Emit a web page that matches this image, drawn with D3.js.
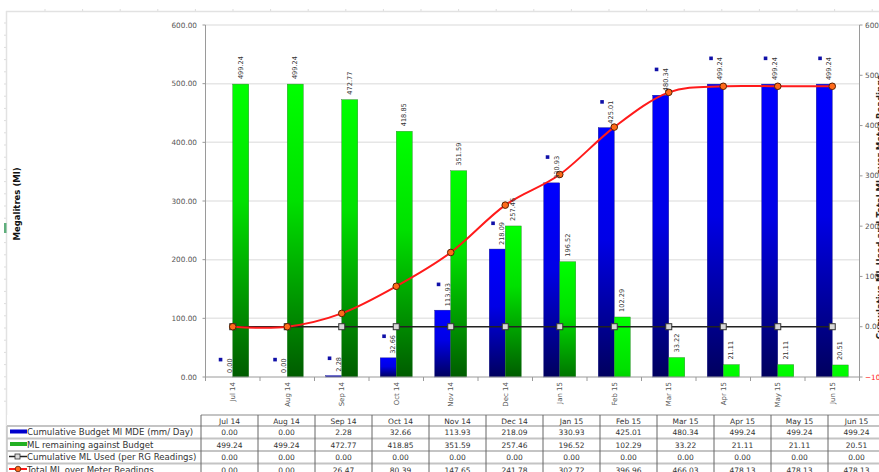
<!DOCTYPE html>
<html><head><meta charset="utf-8">
<script src="https://cdn.jsdelivr.net/npm/d3@7"></script>
<style>html,body{margin:0;padding:0;background:#fff;overflow:hidden}svg{display:block}text{font-family:"DejaVu Sans",sans-serif}</style>
</head><body><svg id="c" width="879" height="472"></svg>
<script>
const categories = ["Jul 14","Aug 14","Sep 14","Oct 14","Nov 14","Dec 14","Jan 15","Feb 15","Mar 15","Apr 15","May 15","Jun 15"];
const budgetCum = [0.00,0.00,2.28,32.66,113.93,218.09,330.93,425.01,480.34,499.24,499.24,499.24];
const remaining = [499.24,499.24,472.77,418.85,351.59,257.46,196.52,102.29,33.22,21.11,21.11,20.51];
const usedCum = [0,0,0,0,0,0,0,0,0,0,0,0];
const totalMeter = [0.00,0.00,26.47,80.39,147.65,241.78,302.72,396.96,466.03,478.13,478.13,478.13];
const seriesNames = ["Cumulative Budget Ml MDE (mm/ Day)","ML remaining against  Budget","Cumulative ML Used (per RG Readings)","Total ML over Meter Readings"];
const leftTicks = [0,100,200,300,400,500,600];
const rightTicks = [-100,0,100,200,300,400,500,600];
const leftTitle = "Megalitres (Ml)";
const rightTitle = "Cumulative ML Used and Total ML over Meter Readings";

const svg = d3.select("#c");
const fmt = d3.format(".2f");
const L = 205.5, R = 859.5, T = 25, B = 377;

const x = d3.scaleBand().domain(categories).range([L, R]);
const xs = d3.scaleBand().domain([0,1]).range([0, x.bandwidth()]).paddingOuter(0.7);
const yL = d3.scaleLinear().domain([0,600]).range([B, T]);
const yR = d3.scaleLinear().domain([-100,600]).range([B, T]);
const cx = c => x(c) + x.bandwidth()/2;

// outer frame
const frame = svg.append("g");
frame.append("line").attr("x1",6).attr("x2",879).attr("y1",11.5).attr("y2",11.5).attr("stroke","#e2e2e2").attr("stroke-width",1.5);
frame.append("line").attr("x1",6.5).attr("x2",6.5).attr("y1",11).attr("y2",472).attr("stroke","#e2e2e2").attr("stroke-width",1.5);
d3.range(45, 879, 37.6).forEach(v => frame.append("line").attr("x1",v).attr("x2",v).attr("y1",9).attr("y2",11).attr("stroke","#ddd"));
d3.range(23, 410, 12.2).forEach(v => frame.append("line").attr("x1",4).attr("x2",6).attr("y1",v).attr("y2",v).attr("stroke","#ddd"));
frame.append("rect").attr("x",4).attr("y",223).attr("width",2.5).attr("height",10).attr("fill","#5fae7c");

// gridlines
svg.append("g").selectAll("line").data(leftTicks.filter(d=>d>0)).join("line")
  .attr("x1",L).attr("x2",R).attr("y1",d=>yL(d)).attr("y2",d=>yL(d))
  .attr("stroke","#e6e6e6").attr("stroke-width",1.5);

// gradients
const defs = svg.append("defs");
function grad(id, y1, y2, stops){
  const g = defs.append("linearGradient").attr("id",id).attr("gradientUnits","userSpaceOnUse")
    .attr("x1",0).attr("x2",0).attr("y1",y1).attr("y2",y2);
  stops.forEach(s=>g.append("stop").attr("offset",s[0]).attr("stop-color",s[1]));
}
const blueStops = [[0,"#0000ff"],[0.45,"#0000e6"],[1,"#00005e"]];
const greenStops = [[0,"#00ff00"],[0.4,"#00e000"],[1,"#005c00"]];

// bars
const gb = svg.append("g");
categories.forEach((c,i)=>{
  const bt = yL(budgetCum[i]);
  if (B - bt > 0.3){
    grad("gb"+i, bt, B, blueStops);
    gb.append("rect").attr("x", x(c)+xs(0)).attr("y", bt).attr("width", xs.bandwidth()).attr("height", B-bt)
      .attr("fill","url(#gb"+i+")").attr("stroke","#1a1a80").attr("stroke-width",0.4);
  }
  const gt = yL(remaining[i]);
  grad("gg"+i, gt, gt + Math.max(B-gt, 130), greenStops);
  gb.append("rect").attr("x", x(c)+xs(1)).attr("y", gt).attr("width", xs.bandwidth()).attr("height", B-gt)
    .attr("fill","url(#gg"+i+")").attr("stroke","#2a7a2a").attr("stroke-width",0.4);
});

// axes lines
const ax = svg.append("g");
ax.append("line").attr("x1",L).attr("x2",L).attr("y1",T).attr("y2",B).attr("stroke","#9a9a9a").attr("stroke-width",1);
ax.append("line").attr("x1",R).attr("x2",R).attr("y1",T).attr("y2",B).attr("stroke","#9a9a9a").attr("stroke-width",1);
ax.append("line").attr("x1",L).attr("x2",R).attr("y1",B).attr("y2",B).attr("stroke","#9a9a9a").attr("stroke-width",1);

// left ticks
const lg = svg.append("g");
lg.selectAll("line").data(leftTicks).join("line").attr("x1",L-3).attr("x2",L).attr("y1",d=>yL(d)).attr("y2",d=>yL(d)).attr("stroke","#9a9a9a");
lg.selectAll("text").data(leftTicks).join("text").attr("x",197).attr("y",d=>yL(d)).attr("dy","0.35em")
  .attr("text-anchor","end").attr("font-size",7.3).attr("fill","#555").text(d=>fmt(d));
// right ticks
const rg = svg.append("g");
rg.selectAll("line").data(rightTicks).join("line").attr("x1",R).attr("x2",R+3).attr("y1",d=>yR(d)).attr("y2",d=>yR(d)).attr("stroke","#9a9a9a");
rg.selectAll("text").data(rightTicks).join("text").attr("x",865).attr("y",d=>yR(d)).attr("dy","0.35em")
  .attr("font-size",7.3).attr("fill",d=>d<0?"#ff2020":"#555").text(d=>fmt(d));

// x ticks & labels
const xg = svg.append("g");
xg.selectAll("line").data(d3.range(categories.length+1)).join("line")
  .attr("x1",i=>L+i*x.step()).attr("x2",i=>L+i*x.step()).attr("y1",B).attr("y2",B+4).attr("stroke","#9a9a9a");
xg.selectAll("text").data(categories).join("text")
  .attr("transform",c=>`translate(${cx(c)},${B+5}) rotate(-90)`).attr("text-anchor","end").attr("dy","0.35em")
  .attr("font-size",7).attr("fill","#555").text(c=>c);

// titles
svg.append("text").attr("transform","translate(17,204) rotate(-90)").attr("text-anchor","middle").attr("dy","0.35em")
  .attr("font-size",8.5).attr("font-weight","bold").attr("fill","#111").text(leftTitle);
svg.append("text").attr("transform","translate(880,207) rotate(-90)").attr("text-anchor","middle").attr("dy","0.35em")
  .attr("font-size",8.5).attr("font-weight","bold").attr("fill","#222").text(rightTitle);

// lines
const usedLine = d3.line().x((d,i)=>cx(categories[i])).y(d=>yR(d));
svg.append("path").attr("d",usedLine(usedCum)).attr("fill","none").attr("stroke","#222").attr("stroke-width",1.6);
svg.append("g").selectAll("rect").data(usedCum).join("rect")
  .attr("x",(d,i)=>cx(categories[i])-3).attr("y",d=>yR(d)-3).attr("width",6).attr("height",6)
  .attr("fill","#d8d8d8").attr("stroke","#333").attr("stroke-width",1);
const totLine = d3.line().x((d,i)=>cx(categories[i])).y(d=>yR(d)).curve(d3.curveCardinal.tension(0));
svg.append("path").attr("d",totLine(totalMeter)).attr("fill","none").attr("stroke","#ff1a1a").attr("stroke-width",2);
svg.append("g").selectAll("circle").data(totalMeter).join("circle")
  .attr("cx",(d,i)=>cx(categories[i])).attr("cy",d=>yR(d)).attr("r",3.3)
  .attr("fill","#ff6a1a").attr("stroke","#5a2000").attr("stroke-width",1);

// data labels
const dl = svg.append("g").attr("font-size",6.6).attr("fill","#333");
categories.forEach((c,i)=>{
  const by = yL(budgetCum[i]) - 4;
  const t = dl.append("text").attr("transform",`translate(${cx(c)-3.5},${by}) rotate(-90)`).attr("dy","0.35em").text(fmt(budgetCum[i]));
  const len = t.node().getComputedTextLength();
  dl.append("rect").attr("x",cx(c)-14).attr("y",by-len-0.5).attr("width",3.6).attr("height",3.6).attr("fill","#1010a8");
  const gy = yL(remaining[i]) - 5;
  dl.append("text").attr("transform",`translate(${cx(c)+7.5},${gy}) rotate(-90)`).attr("dy","0.35em").text(fmt(remaining[i]));
});

// data table
const tbl = svg.append("g");
const colX0 = 201, colW = 57, hdrTop = 415, rowH = 12.5;
const rowsTop = hdrTop + 11;
const rows = [budgetCum, remaining, usedCum, totalMeter];
tbl.append("rect").attr("x",7).attr("y",hdrTop).attr("width",872).attr("height",472-hdrTop).attr("fill","#fff");
tbl.append("line").attr("x1",colX0).attr("x2",879).attr("y1",hdrTop).attr("y2",hdrTop).attr("stroke","#c4c4c4").attr("stroke-width",1.8);
d3.range(rows.length).forEach(r=>{
  const y = rowsTop + r*rowH;
  tbl.append("line").attr("x1",7).attr("x2",879).attr("y1",y).attr("y2",y).attr("stroke","#c4c4c4").attr("stroke-width",1.8);
});
tbl.append("line").attr("x1",7).attr("x2",7).attr("y1",rowsTop).attr("y2",472).attr("stroke","#c4c4c4").attr("stroke-width",1.5);
d3.range(categories.length).forEach(j=>{
  const xv = colX0 + j*colW;
  tbl.append("line").attr("x1",xv).attr("x2",xv).attr("y1",hdrTop).attr("y2",472).attr("stroke","#666").attr("stroke-width",1);
});
tbl.selectAll("text.h").data(categories).join("text").attr("class","h")
  .attr("x",(c,j)=>colX0 + j*colW + colW/2).attr("y",hdrTop+8.5).attr("text-anchor","middle")
  .attr("font-size",7.5).attr("fill","#333").text(c=>c);
rows.forEach((vals,r)=>{
  const yb = rowsTop + r*rowH + 9;
  vals.forEach((v,j)=>{
    tbl.append("text").attr("x",colX0 + j*colW + colW/2).attr("y",yb).attr("text-anchor","middle")
      .attr("font-size",7.5).attr("fill","#333").text(fmt(v));
  });
  tbl.append("text").attr("x",27).attr("y",yb).attr("font-size",8.6).attr("fill","#333").text(seriesNames[r]);
});
const ky = r => rowsTop + r*rowH + 5.5;
tbl.append("rect").attr("x",10).attr("y",ky(0)-2).attr("width",17).attr("height",4).attr("fill","#0000cc");
tbl.append("rect").attr("x",10).attr("y",ky(1)-2).attr("width",17).attr("height",4).attr("fill","#22b022");
tbl.append("line").attr("x1",9).attr("x2",27).attr("y1",ky(2)).attr("y2",ky(2)).attr("stroke","#222").attr("stroke-width",1.5);
tbl.append("rect").attr("x",15).attr("y",ky(2)-2.5).attr("width",5).attr("height",5).attr("fill","#ddd").attr("stroke","#333").attr("stroke-width",0.8);
tbl.append("line").attr("x1",9).attr("x2",27).attr("y1",ky(3)).attr("y2",ky(3)).attr("stroke","#ff1a1a").attr("stroke-width",2);
tbl.append("circle").attr("cx",18).attr("cy",ky(3)).attr("r",2.8).attr("fill","#ff6a1a").attr("stroke","#5a2000").attr("stroke-width",0.8);
</script></body></html>
